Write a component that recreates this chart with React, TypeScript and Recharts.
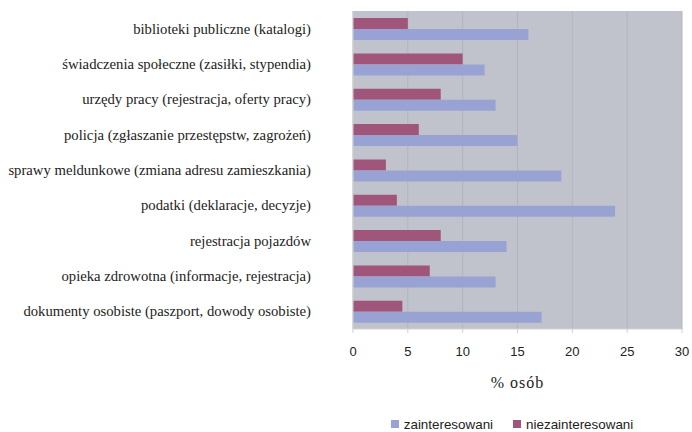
import React from 'react';
import {
  BarChart,
  Bar,
  XAxis,
  YAxis,
  CartesianGrid,
  Legend,
} from 'recharts';

const categories = [
  'biblioteki publiczne (katalogi)',
  'świadczenia społeczne (zasiłki, stypendia)',
  'urzędy pracy (rejestracja, oferty pracy)',
  'policja (zgłaszanie przestępstw, zagrożeń)',
  'sprawy meldunkowe (zmiana adresu zamieszkania)',
  'podatki (deklaracje, decyzje)',
  'rejestracja pojazdów',
  'opieka zdrowotna (informacje, rejestracja)',
  'dokumenty osobiste (paszport, dowody osobiste)',
];

const zainteresowani = [16, 12, 13, 15, 19, 23.9, 14, 13, 17.2];
const niezainteresowani = [5, 10, 8, 6, 3, 4, 8, 7, 4.5];

const xTicks = [0, 5, 10, 15, 20, 25, 30];

const series = [
  { key: 'zainteresowani', color: '#98a3d4' },
  { key: 'niezainteresowani', color: '#a0557a' },
];

const data = categories.map((name, i) => ({
  name,
  zainteresowani: zainteresowani[i],
  niezainteresowani: niezainteresowani[i],
}));

const serif = 'Liberation Serif';
const sans = 'Liberation Sans';

// category labels in a serif face, right-aligned against the plot
const CategoryTick = (props: any) => {
  const { x, y, payload } = props;
  return (
    <text
      x={x}
      y={y}
      dy="0.35em"
      textAnchor="end"
      fontFamily={serif}
      fontSize={14.7}
      fill="#222"
    >
      {payload.value}
    </text>
  );
};

const ValueTick = (props: any) => {
  const { x, y, payload } = props;
  return (
    <text
      x={x}
      y={y}
      dy="0.71em"
      textAnchor="middle"
      fontFamily={sans}
      fontSize={13}
      fill="#222"
    >
      {payload.value}
    </text>
  );
};

const LegendBox = () => (
  <div
    style={{
      height: 26,
      paddingTop: 10,
      paddingLeft: 342,
      boxSizing: 'border-box',
      display: 'flex',
      justifyContent: 'center',
      gap: 20,
      fontFamily: sans,
      fontSize: 13.4,
      color: '#222',
      lineHeight: '15px',
    }}
  >
    {series.map((s) => (
      <span key={s.key} style={{ display: 'inline-flex', alignItems: 'center' }}>
        <span style={{ width: 8, height: 8, background: s.color, marginRight: 5, display: 'inline-block' }} />
        {s.key}
      </span>
    ))}
  </div>
);

export default function App() {
  return (
    <div style={{ position: 'absolute', left: 0, top: 0, background: '#fff' }}>
      <BarChart
        width={692}
        height={432}
        data={data}
        layout="vertical"
        margin={{ top: 11, right: 10, bottom: 0, left: 0 }}
        barCategoryGap="20%"
        barGap={0}
      >
        <CartesianGrid
          horizontal={false}
          stroke="#b2b5bd"
          fill="#c0c3cb"
          fillOpacity={1}
        />
        <XAxis
          type="number"
          domain={[0, 30]}
          ticks={xTicks}
          height={77}
          axisLine={{ stroke: '#d0d0d0' }}
          tickLine={{ stroke: '#d0d0d0' }}
          tickSize={4}
          tickMargin={14}
          tick={<ValueTick />}
          label={{
            value: '% osób',
            position: 'insideBottom',
            offset: 18,
            fill: '#222',
            fontSize: 16,
            fontFamily: serif,
            letterSpacing: 1,
          }}
        />
        <YAxis
          type="category"
          dataKey="name"
          width={353}
          interval={0}
          axisLine={{ stroke: '#d6d6d6' }}
          tickLine={false}
          tickSize={0}
          tickMargin={42}
          tick={<CategoryTick />}
        />
        <Legend verticalAlign="bottom" content={<LegendBox />} />
        <Bar dataKey="niezainteresowani" fill="#a0557a" isAnimationActive={false} />
        <Bar dataKey="zainteresowani" fill="#98a3d4" isAnimationActive={false} />
      </BarChart>
    </div>
  );
}
